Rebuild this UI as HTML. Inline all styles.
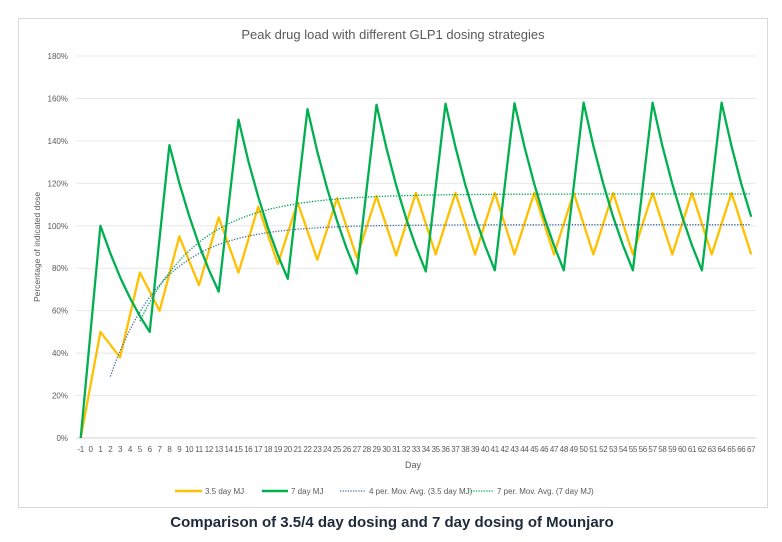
<!DOCTYPE html>
<html><head><meta charset="utf-8"><style>
body{margin:0;background:#fff;width:782px;height:542px;overflow:hidden;font-family:"Liberation Sans",sans-serif}
</style></head><body>
<svg id="s" width="782" height="542" xmlns="http://www.w3.org/2000/svg" style="position:absolute;left:0;top:0">
<rect x="18.5" y="18.5" width="749" height="489" fill="#fff" stroke="#d9d9d9"/>
<text x="393" y="39" text-anchor="middle" font-size="13" fill="#595959">Peak drug load with different GLP1 dosing strategies</text>
<text transform="translate(40,247) rotate(-90)" text-anchor="middle" font-size="8.5" fill="#595959">Percentage of indicated dose</text>
<text x="413" y="468" text-anchor="middle" font-size="9" fill="#595959">Day</text>
<g id="g"></g>
<line x1="175" y1="491" x2="202" y2="491" stroke="#FFC000" stroke-width="2.5"/>
<text x="205" y="494" font-size="8" fill="#595959">3.5 day MJ</text>
<line x1="262" y1="491" x2="288" y2="491" stroke="#00B050" stroke-width="2.5"/>
<text x="291" y="494" font-size="8" fill="#595959">7 day MJ</text>
<line x1="340" y1="491" x2="366" y2="491" stroke="#4472A0" stroke-width="1.3" stroke-dasharray="1.3,1.3"/>
<text x="369" y="494" font-size="8" fill="#595959">4 per. Mov. Avg. (3.5 day MJ)</text>
<line x1="468" y1="491" x2="494" y2="491" stroke="#00B050" stroke-width="1.3" stroke-dasharray="1.3,1.3"/>
<text x="497" y="494" font-size="8" fill="#595959">7 per. Mov. Avg. (7 day MJ)</text>
<text x="392" y="527" text-anchor="middle" font-size="15" font-weight="bold" fill="#1e2a3a">Comparison of 3.5/4 day dosing and 7 day dosing of Mounjaro</text>
</svg>
<script>
var g=document.getElementById('g'),h='';
function X(d){return 80.7+(d+1)*9.86}
function Y(v){return 438-v*382/180}
for(var i=0;i<=9;i++){var y=Y(i*20);
h+='<line x1="76" x2="756" y1="'+y+'" y2="'+y+'" stroke="'+(i==0?'#d0d0d0':'#e8e8e8')+'"/>';
h+='<text x="68" y="'+(y+3)+'" text-anchor="end" font-size="8" fill="#595959">'+(i*20)+'%</text>';}
for(var d=-1;d<=67;d++)h+='<text x="'+X(d)+'" y="452" text-anchor="middle" font-size="8" fill="#595959" letter-spacing="-0.3">'+d+'</text>';
var ya=[[-1,0],[1,50],[3,38],[5,78],[7,60],[9,95],[11,72],[13,104],[15,78],[17,109],[19,82],[21,111],[23,84],[25,113],[27,85],[29,114],[31,86]];
for(var d=33;d<=67;d+=2)ya.push([d,((d-1)%4==0)?115.5:86.5]);
var p=ya.map(function(a){return X(a[0]).toFixed(1)+','+Y(a[1]).toFixed(1)}).join(' ');
h+='<polyline points="'+p+'" fill="none" stroke="#FFC000" stroke-width="2.3" stroke-linejoin="round"/>';
var pk=[[1,100],[8,138],[15,150],[22,155],[29,157],[36,157.5],[43,157.7],[50,158],[57,158],[64,158]];
var tr=[50,69,75,77.5,78.5,79,79,79,79];
var pts=[[-1,0]];
for(var k=0;k<pk.length;k++){var d0=pk[k][0],P=pk[k][1];
var n,r;
if(k<tr.length){n=5;r=Math.pow(tr[k]/P,1/5);}else{n=3;r=Math.pow(0.5,1/5);}
for(var j=0;j<=n;j++)pts.push([d0+j,P*Math.pow(r,j)]);}
p=pts.map(function(a){return X(a[0]).toFixed(1)+','+Y(a[1]).toFixed(1)}).join(' ');
h+='<polyline points="'+p+'" fill="none" stroke="#00B050" stroke-width="2.3" stroke-linejoin="round"/>';
var b=[],gg=[];
for(var d=2;d<=67;d+=0.5)b.push(X(d).toFixed(1)+','+Y(100.5-71.5*Math.exp(-(d-2)/5.4)).toFixed(1));
for(var d=5;d<=67;d+=0.5)gg.push(X(d).toFixed(1)+','+Y(115-60*Math.exp(-(d-5)/6.2)).toFixed(1));
h+='<polyline points="'+b.join(' ')+'" fill="none" stroke="#4472A0" stroke-width="1.3" stroke-dasharray="1.3,1.5"/>';
h+='<polyline points="'+gg.join(' ')+'" fill="none" stroke="#00A050" stroke-width="1.3" stroke-dasharray="1.3,1.5"/>';
g.innerHTML=h;
</script>
</body></html>
